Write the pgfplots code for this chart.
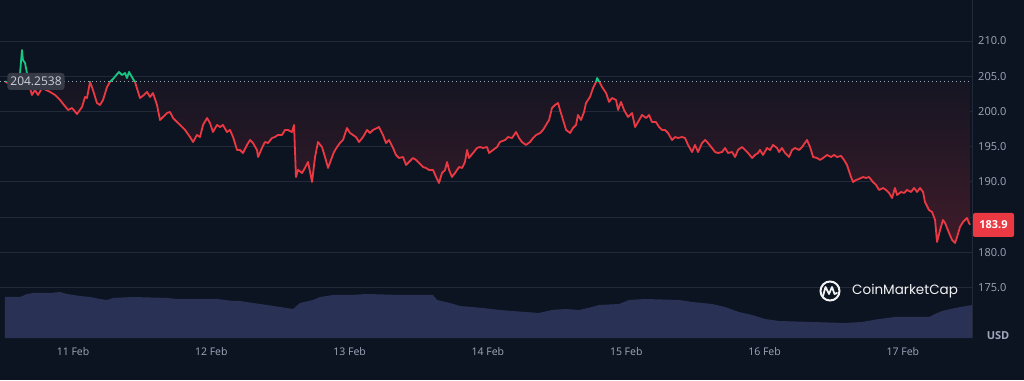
\documentclass[border=0pt]{standalone}
\usepackage{pgfplots}
\usepackage{pgfplotstable}
\pgfplotsset{compat=1.18}
\usepackage{fontspec}
\setmainfont{Open Sans}
\newfontfamily\poppins{Poppins}
\definecolor{bg}{HTML}{0D1421}
\definecolor{gridc}{HTML}{222A39}
\definecolor{txt}{HTML}{A1A7BB}
\definecolor{cmcred}{HTML}{EA3943}
\definecolor{cmcgreen}{HTML}{16C784}
\definecolor{volc}{HTML}{293255}
\definecolor{tint}{HTML}{3F1B29}
\definecolor{lblbg}{HTML}{353A46}

\pgfplotstableread{
d p
10.508 204.25
10.544 203.89
10.580 204.03
10.609 204.46
10.617 205.45
10.631 208.72
10.638 207.30
10.653 206.88
10.667 205.45
10.682 203.75
10.703 202.33
10.725 203.04
10.747 202.33
10.776 203.32
10.805 203.04
10.834 202.76
10.870 202.33
10.906 201.62
10.964 200.20
10.993 200.48
11.029 199.63
11.065 200.63
11.087 202.05
11.101 201.90
11.123 204.18
11.144 203.04
11.173 201.19
11.195 200.91
11.217 201.62
11.246 203.47
11.267 204.18
11.289 204.60
11.332 205.60
11.354 205.17
11.376 205.45
11.390 204.74
11.405 205.60
11.434 204.60
11.448 204.18
11.484 201.90
11.513 202.33
11.535 202.76
11.557 202.05
11.578 202.61
11.607 200.91
11.629 198.78
11.651 199.21
11.680 199.77
11.701 199.92
11.723 199.06
11.752 198.49
11.774 198.07
11.810 197.36
11.846 196.36
11.868 195.65
11.896 196.65
11.918 196.36
11.940 198.07
11.969 199.06
11.990 198.35
12.012 197.07
12.041 198.07
12.063 197.78
12.084 198.07
12.113 197.07
12.135 197.36
12.157 196.36
12.186 194.52
12.207 194.52
12.229 194.09
12.258 195.23
12.280 195.94
12.301 195.51
12.330 194.52
12.338 193.52
12.366 194.80
12.388 195.65
12.410 195.51
12.439 196.22
12.460 196.36
12.482 196.65
12.511 196.65
12.533 197.36
12.554 197.36
12.583 197.07
12.598 198.07
12.612 190.68
12.627 191.68
12.656 191.25
12.677 191.96
12.699 192.81
12.714 191.39
12.728 189.97
12.750 193.52
12.771 195.65
12.800 194.94
12.822 193.52
12.844 191.96
12.865 193.10
12.887 194.23
12.909 194.94
12.930 195.51
12.952 195.94
12.981 197.64
13.003 196.93
13.024 196.65
13.046 196.36
13.068 195.65
13.097 196.36
13.126 197.36
13.147 196.93
13.169 197.36
13.198 197.64
13.212 197.78
13.241 196.65
13.263 195.51
13.285 195.94
13.314 194.80
13.335 193.81
13.357 193.38
13.386 193.52
13.408 192.39
13.429 192.81
13.458 193.38
13.480 193.10
13.502 192.67
13.531 192.10
13.552 191.96
13.574 191.68
13.603 191.68
13.625 190.68
13.646 189.83
13.668 191.25
13.690 191.68
13.704 192.81
13.719 191.68
13.740 190.68
13.762 191.25
13.791 192.10
13.813 191.96
13.834 192.81
13.849 194.52
13.863 193.38
13.892 194.09
13.921 194.80
13.943 194.94
13.964 194.80
13.993 194.94
14.008 194.09
14.037 194.52
14.066 194.94
14.087 195.65
14.124 195.94
14.145 196.36
14.174 196.22
14.203 197.07
14.225 196.22
14.246 195.65
14.275 195.23
14.304 195.65
14.326 196.22
14.348 196.65
14.377 196.93
14.398 197.36
14.420 198.07
14.442 198.78
14.463 200.48
14.485 200.91
14.507 201.19
14.521 200.20
14.543 198.78
14.565 197.36
14.594 196.93
14.615 197.64
14.637 198.07
14.651 199.49
14.673 198.78
14.695 199.92
14.709 201.19
14.738 202.05
14.760 203.32
14.782 204.18
14.789 204.74
14.810 204.03
14.825 203.47
14.854 202.61
14.876 201.34
14.897 201.90
14.926 201.62
14.941 200.20
14.962 201.34
14.984 200.20
15.013 199.21
15.042 199.77
15.064 197.78
15.085 198.49
15.114 199.49
15.143 199.06
15.165 199.49
15.186 198.49
15.215 198.49
15.237 197.78
15.259 197.36
15.280 197.36
15.302 196.93
15.331 195.94
15.353 196.36
15.374 196.22
15.403 196.36
15.425 196.22
15.447 195.23
15.476 194.23
15.497 195.23
15.519 194.23
15.548 195.51
15.570 195.94
15.591 195.51
15.620 194.80
15.642 194.23
15.664 194.09
15.693 194.23
15.714 194.80
15.736 194.09
15.765 194.23
15.787 193.52
15.808 194.52
15.837 194.94
15.859 194.52
15.881 194.09
15.910 193.38
15.931 193.81
15.953 194.09
15.967 194.52
15.989 193.81
16.018 194.80
16.040 194.52
16.061 195.23
16.090 194.80
16.105 194.23
16.126 194.80
16.148 194.09
16.177 193.52
16.199 194.52
16.220 194.80
16.249 194.52
16.271 194.94
16.307 195.94
16.329 194.94
16.351 193.52
16.380 193.38
16.401 193.10
16.423 193.38
16.452 193.81
16.481 193.52
16.502 193.81
16.524 193.52
16.553 193.67
16.575 193.10
16.596 192.39
16.625 190.68
16.640 189.97
16.662 190.26
16.683 190.40
16.712 190.68
16.734 190.54
16.755 190.68
16.784 189.97
16.806 189.55
16.828 188.84
16.857 189.12
16.878 188.84
16.900 188.41
16.922 187.70
16.943 189.12
16.958 188.13
16.987 188.55
17.009 188.41
17.030 188.84
17.059 188.55
17.081 189.12
17.103 188.55
17.124 189.12
17.146 188.55
17.160 187.13
17.189 185.99
17.211 185.71
17.233 184.57
17.247 181.45
17.269 183.15
17.290 184.57
17.305 184.15
17.334 182.73
17.356 181.73
17.377 181.31
17.392 182.16
17.413 183.58
17.435 184.29
17.464 184.86
17.478 184.15
17.486 183.90
}\price

\pgfplotstableread{
d v
10.508 410
10.566 410
10.617 410
10.667 440
10.711 450
10.834 450
10.906 460
10.956 440
11.050 420
11.123 410
11.195 390
11.246 380
11.289 400
11.434 410
11.680 400
11.752 390
11.824 390
12.041 390
12.157 370
12.207 370
12.301 350
12.403 330
12.497 310
12.591 290
12.641 350
12.735 380
12.786 410
12.880 430
13.003 430
13.126 440
13.364 430
13.603 430
13.632 380
13.726 350
13.798 320
13.964 300
14.087 280
14.174 270
14.369 250
14.463 280
14.557 290
14.659 280
14.753 310
14.803 330
14.948 340
15.020 380
15.136 390
15.382 380
15.476 360
15.620 340
15.714 310
15.815 260
15.910 230
16.003 190
16.105 170
16.343 160
16.582 150
16.705 160
16.828 190
16.943 210
17.189 210
17.233 240
17.283 270
17.377 300
17.500 330
}\volume

\begin{document}
\begin{tikzpicture}
\useasboundingbox (0,0) rectangle (1024pt,380pt);
\fill[bg] (0,0) rectangle (1024pt,380pt);

% volume
\begin{axis}[at={(0pt,42pt)}, anchor=south west, scale only axis,
  width=972pt, height=100pt, xmin=10.472, xmax=17.5, ymin=0, ymax=1000,
  axis lines=none]
\addplot[fill=volc, draw=none] table {\volume} \closedcycle;
\end{axis}

% price
\begin{axis}[at={(0pt,42pt)}, anchor=south west, scale only axis,
  width=972pt, height=338pt,
  xmin=10.472, xmax=17.5, ymin=167.81, ymax=215.824,
  axis line style={draw=none},
  major tick length=0pt,
  ytick={175,180,185,190,195,200,205,210},
  yticklabels={175.0,180.0,,190.0,195.0,200.0,205.0,210.0},
  ymajorgrids, grid style={gridc, line width=0.8pt},
  yticklabel pos=right,
  yticklabel style={anchor=west, inner sep=0pt, xshift=6pt,
    font=\fontsize{11}{13}\selectfont, text=txt},
  xtick={11,12,13,14,15,16,17},
  xticklabels={11 Feb,12 Feb,13 Feb,14 Feb,15 Feb,16 Feb,17 Feb},
  xticklabel style={anchor=center, inner sep=0pt, yshift=-14pt,
    font=\fontsize{10.5}{12}\selectfont, text=txt},
]
\addplot[draw=none, top color=bg, middle color=bg!80!tint, bottom color=tint] table {\price}
  -- (axis cs:17.486,204.2538) -- (axis cs:10.508,204.2538) -- cycle;
\draw[txt, line width=0.9pt, dash pattern=on 0.9pt off 3.1pt]
  (axis cs:10.472,204.2538) -- (axis cs:17.5,204.2538);
\begin{scope}
\clip (axis cs:10.4,160) rectangle (axis cs:17.6,204.2538);
\addplot[cmcred, line width=1.8pt, line join=round] table {\price};
\end{scope}
\begin{scope}
\clip (axis cs:10.4,204.2538) rectangle (axis cs:17.6,216);
\addplot[cmcgreen, line width=1.8pt, line join=round] table {\price};
\end{scope}
\end{axis}

\draw[gridc, line width=0.8pt] (972pt,42pt) -- (972pt,380pt);

\node[fill=lblbg, rounded corners=3pt, text={rgb,255:red,205;green,210;blue,220},
  font=\fontsize{12}{14}\selectfont, inner xsep=3pt, inner ysep=0pt,
  minimum height=17pt] at (36pt,298.5pt) {204.2538};
\node[fill=cmcred, rounded corners=2pt, text=white,
  font=\bfseries\fontsize{11}{13}\selectfont, minimum width=41pt,
  minimum height=24pt, inner sep=0pt] at (993.5pt,155pt) {183.9};
\node[text=txt, font=\bfseries\fontsize{11}{13}\selectfont, inner sep=0pt]
  at (998pt,44pt) {USD};

\draw[white!90!gray, line width=2pt] (830pt,89pt) circle (9.5pt);
\draw[white!90!gray, line width=1.8pt, line join=round, line cap=round]
  (823pt,84pt) -- (825.5pt,93pt) -- (829pt,86pt) -- (832pt,93pt) -- (834.5pt,86pt) -- (837pt,87pt);
\node[anchor=west, text=white!90!gray, font=\poppins\fontsize{13.5}{15}\selectfont,
  inner sep=0pt] at (852pt,89pt) {CoinMarketCap};
\end{tikzpicture}
\end{document}
